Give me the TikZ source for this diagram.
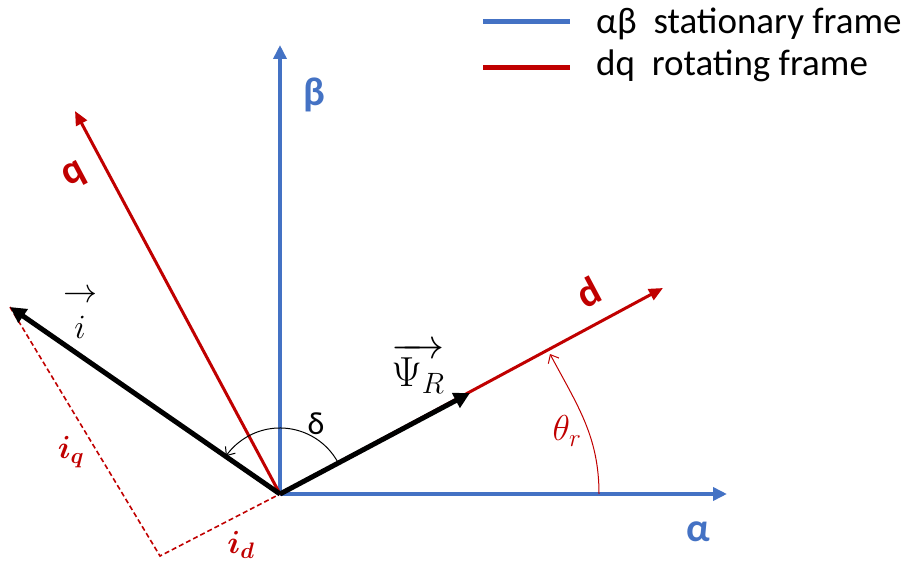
\documentclass[tikz,border=0pt]{standalone}
\usepackage{fix-cm}
\usepackage{amsmath}
\usepackage[no-math]{fontspec}
\setmainfont{Carlito}
\usetikzlibrary{arrows.meta}
\definecolor{axblue}{RGB}{68,114,196}
\definecolor{axred}{RGB}{192,0,0}
\begin{document}
\begin{tikzpicture}[x=1pt,y=-1pt,
  axb/.style={draw=axblue, line width=3.5pt, -{Triangle[length=14pt,width=13pt]}},
  axr/.style={draw=axred, line width=3pt, -{Triangle[length=14pt,width=12pt]}},
  vec/.style={draw=black, line width=5pt, -{Triangle[length=16pt,width=16pt]}},
  proj/.style={draw=axred, line width=1.6pt, dash pattern=on 5pt off 3pt},
  angarc/.style={line width=1pt, -{Straight Barb[length=7pt,width=12pt]}},
  lbl/.style={inner sep=0pt, font=\fontsize{32}{32}\selectfont},
  axlbl/.style={inner sep=0pt, font=\fontsize{40}{46}\selectfont\bfseries},
  leg/.style={inner sep=0pt, anchor=base west, font=\fontsize{37}{44}\selectfont}
]
\useasboundingbox (0,0) rectangle (908,564);
% points
\coordinate (O) at (280,494);
\coordinate (Aend) at (727,494);
\coordinate (Bend) at (280,45);
\coordinate (Dend) at (663,288);
\coordinate (Qend) at (75,111);
\coordinate (Iend) at (10,307);
\coordinate (Pend) at (470,393);
\coordinate (C) at (160,556);
\coordinate (T1) at (599,494);
\coordinate (T2) at (550,354);
% projections
\draw[proj] (Iend) -- (C) -- (O);
% axes
\draw[axb] (O) -- (Aend);
\draw[axb] (O) -- (Bend);
\draw[axr] (O) -- (Dend);
\draw[axr] (O) -- (Qend);
% vectors
\draw[vec] (O) -- (Iend);
\draw[vec] (O) -- (Pend);
% angles
\draw[angarc, draw=black] (O) ++(-28:66) arc[start angle=-28, end angle=-145, radius=66];
\draw[angarc, draw=axred] (T1) to[out=90, in=-62] (T2);
% axis labels
\node[axlbl, text=axblue] (alab) at (698,532) {α};
\node[axlbl, text=axblue] (blab) at (314,95) {β};
\node[axlbl, text=axred, rotate=28] (dlab) at (588,292) {d};
\node[axlbl, text=axred, rotate=28] (qlab) at (75,176) {q};
% vector labels
\node[lbl, align=center, font=\fontsize{34}{36}\selectfont] (ilab) at (80,314) {$\rightarrow$\\$i$};
\node[lbl, font=\fontsize{42}{42}\selectfont] (plab) at (418,368) {$\overrightarrow{\Psi_R}$};
\node[lbl] (dellab) at (316,424) {δ};
\node[lbl, text=axred, font=\fontsize{36}{36}\selectfont] (thlab) at (567,431) {$\theta_r$};
\node[lbl, text=axred] (iqlab) at (71,452) {$\boldsymbol{i}_{\boldsymbol{q}}$};
\node[lbl, text=axred] (idlab) at (241,545) {$\boldsymbol{i}_{\boldsymbol{d}}$};
% legend
\coordinate (L1a) at (483,22);
\coordinate (L1b) at (570,22);
\coordinate (L2a) at (483,68);
\coordinate (L2b) at (570,68);
\draw[draw=axblue, line width=5pt] (L1a) -- (L1b);
\draw[draw=axred, line width=5pt] (L2a) -- (L2b);
\node[leg] (leg1) at (596,34) {αβ\ \ stationary frame};
\node[leg] (leg2) at (596,76) {dq\ \ rotating frame};
\end{tikzpicture}
\end{document}
